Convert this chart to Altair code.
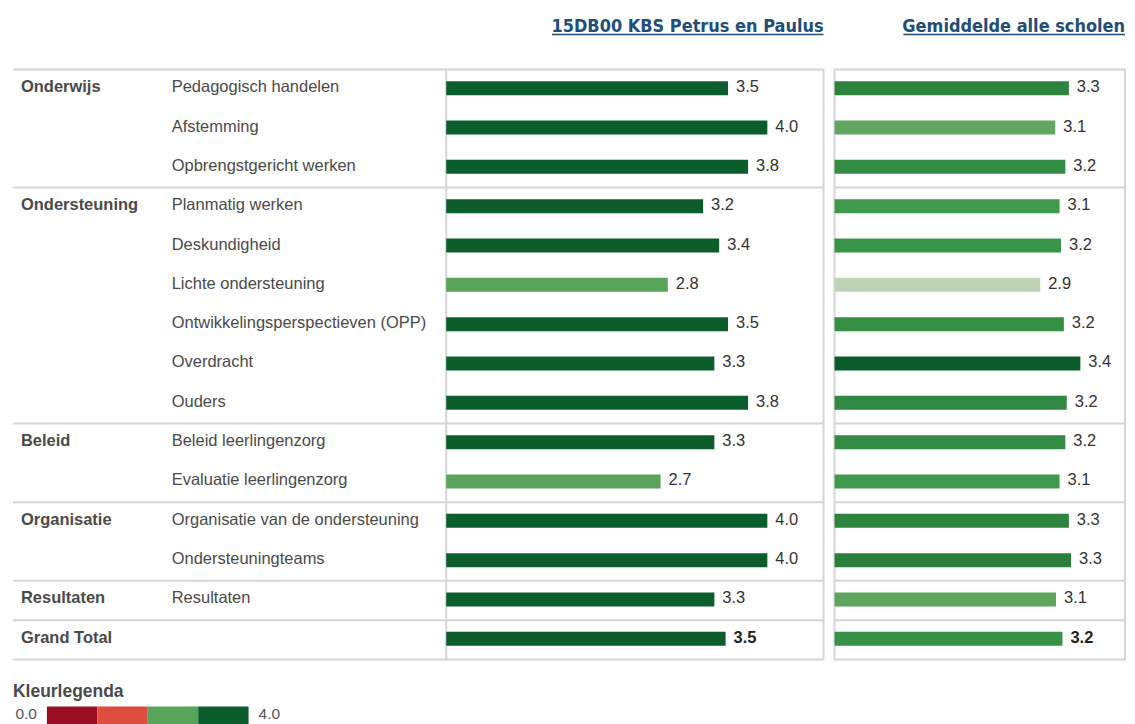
import altair as alt
import pandas as pd

# ---------------- data ----------------
groups = ["Onderwijs", "Onderwijs", "Onderwijs",
          "Ondersteuning", "Ondersteuning", "Ondersteuning", "Ondersteuning", "Ondersteuning", "Ondersteuning",
          "Beleid", "Beleid",
          "Organisatie", "Organisatie",
          "Resultaten",
          "Grand Total"]
items = ["Pedagogisch handelen", "Afstemming", "Opbrengstgericht werken",
         "Planmatig werken", "Deskundigheid", "Lichte ondersteuning",
         "Ontwikkelingsperspectieven (OPP)", "Overdracht", "Ouders",
         "Beleid leerlingenzorg", "Evaluatie leerlingenzorg",
         "Organisatie van de ondersteuning", "Ondersteuningteams",
         "Resultaten",
         ""]
school = [3.51, 4.00, 3.76, 3.20, 3.40, 2.76, 3.51, 3.34, 3.76, 3.34, 2.67, 4.00, 4.00, 3.34, 3.48]
average = [3.27, 3.08, 3.22, 3.14, 3.16, 2.87, 3.20, 3.43, 3.24, 3.22, 3.14, 3.27, 3.30, 3.09, 3.18]

header_school = "15DB00 KBS Petrus en Paulus"
header_avg = "Gemiddelde alle scholen"
legend_title = "Kleurlegenda"
legend_steps = [0, 1, 2, 3]
legend_labels = ["0.0", "4.0"]
legend_colors = ["#9a0b24", "#de4d3f", "#5aa35b", "#0b5e2c"]
avg_color_domain = [2.87, 3.09, 3.15, 3.30, 3.43]
avg_color_range = ["#bfd4b7", "#5fa45d", "#3a974a", "#2a7f3c", "#0a5c2a"]

# ---------------- style ----------------
FONT = "Liberation Sans"
HFONT = "DejaVu Sans Condensed, DejaVu Sans"
LINE = "#d6d6d6"
TXT = "#4a4a4a"
HCOL = "#1f4e79"

n = len(items)
rows = []
for i in range(n):
    first = i == 0 or groups[i] != groups[i - 1]
    rows.append({
        "y": i + 0.5,
        "grp": groups[i] if first else "",
        "item": items[i],
        "school": school[i],
        "avg": average[i],
        "total": groups[i] == "Grand Total",
    })
df = pd.DataFrame(rows)
bounds = [i for i in range(1, n) if groups[i] != groups[i - 1]]
sep_inner = pd.DataFrame({"b": bounds})
sep_all = pd.DataFrame({"b": [0] + bounds + [n]})

ysc = alt.Scale(domain=[0, n], reverse=True, padding=0, nice=False, zero=False)
Y = alt.Y("y:Q", scale=ysc, axis=None)
YB = alt.Y("b:Q", scale=ysc, axis=None)

H = 591
WA, WB, WC = 423, 378, 291

# ---------------- label table ----------------
base = alt.Chart(df)
grp_text = base.mark_text(align="left", baseline="middle", font=FONT, fontSize=16.5,
                          fontWeight="bold", color=TXT, dy=-2).encode(
    x=alt.value(8), y=Y, text="grp:N")
item_text = base.mark_text(align="left", baseline="middle", font=FONT, fontSize=16.5,
                           color=TXT, dy=-2).encode(
    x=alt.value(159), y=Y, text="item:N")
rules_a = alt.Chart(sep_all).mark_rule(color=LINE, strokeWidth=2).encode(
    y=YB, x=alt.value(0), x2=alt.value(WA + 11))
panel_a = alt.layer(rules_a, grp_text, item_text).properties(
    width=WA, height=H, view=alt.ViewBackground(strokeOpacity=0))


def panel(field, width, xmax, color_scale, header, ul_width):
    X = alt.X(f"{field}:Q", scale=alt.Scale(domain=[0, xmax], nice=False, zero=True, padding=0),
              axis=None)
    b = alt.Chart(df)
    bars = b.mark_bar(orient="horizontal", size=14, yOffset=-1).encode(
        x=X, y=Y, color=alt.Color(f"{field}:Q", scale=color_scale, legend=None))
    labels = b.transform_filter("!datum.total").mark_text(
        align="left", baseline="middle", dx=8, dy=-2, font=FONT,
        fontSize=16.5, color="#333333").encode(
        x=X, y=Y, text=alt.Text(f"{field}:Q", format=".1f"))
    labels_tot = b.transform_filter("datum.total").mark_text(
        align="left", baseline="middle", dx=8, dy=-2, font=FONT,
        fontSize=16.5, fontWeight="bold", color="#222222").encode(
        x=X, y=Y, text=alt.Text(f"{field}:Q", format=".1f"))
    seps = alt.Chart(sep_inner).mark_rule(color=LINE, strokeWidth=2).encode(
        y=YB, x=alt.value(0), x2=alt.value(width))
    hdf = pd.DataFrame({"t": [header]})
    htext = alt.Chart(hdf).mark_text(align="right", baseline="alphabetic", font=HFONT,
                                     fontSize=18, fontWeight="bold", color=HCOL).encode(
        x=alt.value(width), y=alt.value(-38), text="t:N")
    uline = alt.Chart(hdf).mark_rule(color=HCOL, strokeWidth=1.5).encode(
        x=alt.value(width - ul_width), x2=alt.value(width), y=alt.value(-35))
    return alt.layer(seps, bars, labels, labels_tot, htext, uline).properties(
        width=width, height=H,
        view=alt.ViewBackground(stroke=LINE, strokeWidth=2)).resolve_scale(color="independent")


thr = alt.Scale(type="threshold", domain=[1, 2, 3], range=legend_colors)
panel_b = panel("school", WB, 4.70, thr, header_school, 272)
panel_c = panel("avg", WC, 4.053,
                alt.Scale(type="linear", domain=avg_color_domain, range=avg_color_range,
                          interpolate="rgb"),
                header_avg, 222)

table = alt.hconcat(panel_a, panel_b, panel_c, spacing=11, bounds="flush").resolve_scale(
    color="independent")

# ---------------- colour legend ----------------
ldf = pd.DataFrame({"lo": legend_steps})
ldf["hi"] = ldf["lo"] + 1
lsc = alt.Scale(domain=[-0.673, 4], nice=False, zero=False)
XL = alt.X("lo:Q", scale=lsc, axis=None)
lrect = alt.Chart(ldf).mark_rect().encode(
    x=XL, x2="hi:Q", y=alt.value(0), y2=alt.value(18),
    color=alt.Color("lo:Q", scale=thr, legend=None))
lab_df = pd.DataFrame({"pos": [0, 4], "lab": legend_labels})
lmin = alt.Chart(lab_df.iloc[[0]]).mark_text(align="right", baseline="middle", dx=-10,
                                             font=FONT, fontSize=15.5, color="#555555").encode(
    x=alt.X("pos:Q", scale=lsc, axis=None), y=alt.value(8), text="lab:N")
lmax = alt.Chart(lab_df.iloc[[1]]).mark_text(align="left", baseline="middle", dx=10,
                                             font=FONT, fontSize=15.5, color="#555555").encode(
    x=alt.X("pos:Q", scale=lsc, axis=None), y=alt.value(8), text="lab:N")
ltitle = alt.Chart(pd.DataFrame({"t": [legend_title]})).mark_text(
    align="left", baseline="alphabetic", font=FONT, fontSize=17.5, fontWeight="bold",
    color=TXT).encode(x=alt.value(0), y=alt.value(-9), text="t:N")
legend = alt.layer(lrect, lmin, lmax, ltitle).properties(
    width=236, height=18, view=alt.ViewBackground(strokeOpacity=0))

chart = alt.vconcat(table, legend, spacing=23).resolve_scale(
    color="independent").properties(
    padding={"left": 4, "top": 8, "right": 0, "bottom": 0},
    background="white")

chart.save("out.html", embed_options={"renderer": "svg", "actions": False})
